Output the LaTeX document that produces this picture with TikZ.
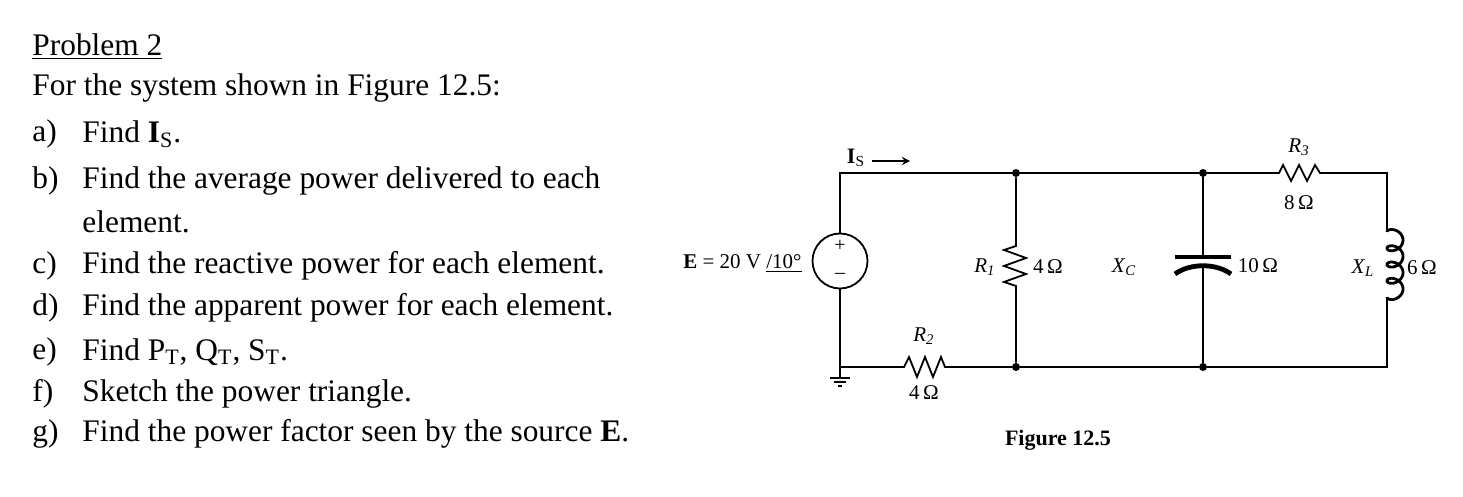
\documentclass[tikz,border=0pt]{standalone}
\usepackage{fontspec}
\setmainfont{Liberation Serif}
\newcommand{\sym}[2]{\textit{#1}\textsubscript{\textit{#2}}}
\begin{document}
\begin{tikzpicture}[x=0.5pt,y=-0.5pt,
  wire/.style={line width=0.9pt},
  dot/.style={circle,fill,inner sep=0pt,minimum size=4pt},
  ct/.style={font=\fontsize{10.5}{12}\selectfont,inner sep=1pt},
  tx/.style={font=\fontsize{15.7}{17}\selectfont,anchor=west,inner sep=0pt}]
\useasboundingbox (0,0) rectangle (1463,497);
% text
\node[tx] (p) at (32,47) {\underline{Problem 2}};
\node[tx] (l1) at (32,88) {For the system shown in Figure 12.5:};
\foreach \y/\a/\t [count=\i] in {134/a)/{Find \textbf{I}\textsubscript{S}.},
  181/b)/Find the average power delivered to each,
  266/c)/Find the reactive power for each element.,
  308/d)/Find the apparent power for each element.,
  352/e)/{Find P\textsubscript{T}, Q\textsubscript{T}, S\textsubscript{T}.},
  394/f)/Sketch the power triangle.,
  434/g)/Find the power factor seen by the source \textbf{E}.}{
  \node[tx] (a\i) at (32,\y) {\a};
  \node[tx] (t\i) at (82,\y) {\t};
}
\node[tx] (cont) at (82,222) {element.};
\node[font=\bfseries\fontsize{11}{12}\selectfont] (fig) at (1058,440) {Figure 12.5};
% circuit
\node[draw,circle,line width=0.9pt,minimum size=27.5pt,inner sep=0pt] (src) at (840,261) {};
\node[font=\fontsize{10}{10}\selectfont] at (840,246) {+};
\node[font=\fontsize{10}{10}\selectfont] at (840,276) {--};
\node[ct,anchor=east] (E) at (804,264) {\textbf{E} = 20 V \underline{/10°}};
\coordinate (tl) at (840,173); \coordinate (bl) at (840,367);
\node[dot] (n1) at (1016,173) {}; \node[dot] (n2) at (1016,367) {};
\node[dot] (n3) at (1203,173) {}; \node[dot] (n4) at (1203,367) {};
\coordinate (tr) at (1387,173); \coordinate (br) at (1387,367);
\draw[wire] (src.south) -- (bl) -- (900,367);
\draw[wire] (src.north) -- (tl) -- (n1) -- (n3) -- (1275,173);
\draw[wire] (1323,173) -- (tr) -- (1387,232);
\draw[wire] (1387,297) -- (br) -- (n4) -- (n2) -- (948,367);
% R2
\draw[wire] (900,367) -- (904,367) -- (909,357) -- (917,377) -- (925,357) -- (933,377) -- (941,357) -- (945,367) -- (948,367);
\node[ct] at (924,336) {\sym{R}{2}}; \node[ct] at (924,393) {4\,Ω};
% R1
\draw[wire] (n1) -- (1016,242) -- (1016,246) -- (1004,250) -- (1026,258) -- (1004,266) -- (1026,274) -- (1004,282) -- (1016,286) -- (1016,288) -- (n2);
\node[ct] at (985,267) {\sym{R}{1}}; \node[ct] at (1048,267) {4\,Ω};
% R3
\draw[wire] (1275,173) -- (1279,173) -- (1283,165) -- (1291,181) -- (1299,165) -- (1307,181) -- (1315,165) -- (1320,173) -- (1323,173);
\node[ct] at (1299,147) {\sym{R}{3}}; \node[ct] at (1299,203) {8\,Ω};
% C
\draw[wire] (n3) -- (1203,257); \draw[wire] (1203,265) -- (n4);
\draw[line width=2.4pt] (1175,257) -- (1231,257);
\draw[line width=2.4pt] (1175,274) .. controls (1190,263) and (1216,263) .. (1231,274);
\node[ct] at (1124,267) {\sym{X}{C}}; \node[ct] at (1258,266) {10\,Ω};
% L
\draw[line width=1.4pt,domain=0:25.13,samples=240,smooth] plot ({1387+8*(1-cos(\x r))},{232+2.59*\x-6*sin(\x r)});
\node[ct] at (1363,268) {\sym{X}{L}}; \node[ct] at (1422,268) {6\,Ω};
% ground
\draw[wire] (840,367) -- (840,378);
\draw[wire] (830,378) -- (850,378); \draw[wire] (834,382) -- (846,382); \draw[wire] (838,386) -- (842,386);
% Is
\node[font=\fontsize{11}{11}\selectfont] (Is) at (856,158) {\textbf{I}\textsubscript{S}};
\draw[-stealth,line width=0.8pt] (872,161) -- (910,161);
\end{tikzpicture}
\end{document}
